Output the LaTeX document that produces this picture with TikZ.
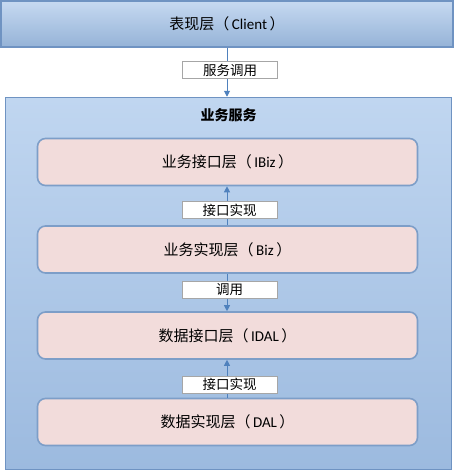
\documentclass[tikz,border=0pt]{standalone}
\usepackage{fontspec}
\setmainfont{Carlito}
\newfontfamily\cjk{Noto Sans CJK SC}
\usetikzlibrary{arrows.meta}
\definecolor{cltop}{HTML}{C6D9F1}
\definecolor{clbot}{HTML}{95B3D7}
\definecolor{bgtop}{HTML}{C0D6F0}
\definecolor{bgbot}{HTML}{9CBADF}
\definecolor{edgeb}{HTML}{6F93C2}
\definecolor{pinkf}{HTML}{F2DCDB}
\definecolor{arrowc}{HTML}{4F81BD}
\definecolor{lblgray}{HTML}{A6A6A6}
\tikzset{
  x=1pt, y=-1pt,
  clientbox/.style={draw=edgeb, line width=1.5pt, shading=axis, top color=cltop, bottom color=clbot, minimum width=452pt, minimum height=46pt, inner sep=0pt, font=\fontsize{15}{17}\selectfont},
  svcbox/.style={draw=edgeb, line width=1.5pt, shading=axis, top color=bgtop, bottom color=bgbot, minimum width=446pt, minimum height=372pt, inner sep=0pt},
  layerbox/.style={draw=edgeb!90!white, line width=1.6pt, fill=pinkf, rounded corners=8pt, minimum width=380pt, minimum height=47pt, inner sep=0pt, font=\fontsize{15}{17}\selectfont},
  lbl/.style={draw=lblgray, line width=0.6pt, fill=white, minimum width=95pt, minimum height=17pt, inner sep=0pt, font=\cjk\fontsize{13.5}{15}\selectfont},
  conn/.style={draw=arrowc, line width=1pt, -{Triangle[length=6pt,width=6pt]}},
}
\begin{document}
\begin{tikzpicture}
\useasboundingbox (0,0) rectangle (454,471);
\fill[white] (0,0) rectangle (454,471);
\node[clientbox] (client) at (227,24) {{\cjk 表现层（}\,Client\,{\cjk ）}};
\node[svcbox] (svc) at (228.5,283.5) {};
\node[font=\cjk\bfseries\fontsize{14}{16}\selectfont] (svct) at (228.5,115) {业务服务};
\node[layerbox] (ibiz) at (227.5,162) {{\cjk 业务接口层（}\,IBiz\,{\cjk ）}};
\node[layerbox] (biz) at (227.5,249.5) {{\cjk 业务实现层（}\,Biz\,{\cjk ）}};
\node[layerbox] (idal) at (227.5,335.5) {{\cjk 数据接口层（}\,IDAL\,{\cjk ）}};
\node[layerbox] (dal) at (227.5,422) {{\cjk 数据实现层（}\,DAL\,{\cjk ）}};
\coordinate (c1) at (227,0);
\draw[conn] (client.south -| c1) -- (svc.north -| c1);
\draw[conn] (biz.north -| c1) -- (ibiz.south -| c1);
\draw[conn] (biz.south -| c1) -- (idal.north -| c1);
\draw[conn] (dal.north -| c1) -- (idal.south -| c1);
\node[lbl] (l1) at (230,70) {服务调用};
\node[lbl] (l2) at (229.5,210) {接口实现};
\node[lbl] (l3) at (229.5,289.5) {调用};
\node[lbl] (l4) at (229.5,384.5) {接口实现};
\end{tikzpicture}
\end{document}
